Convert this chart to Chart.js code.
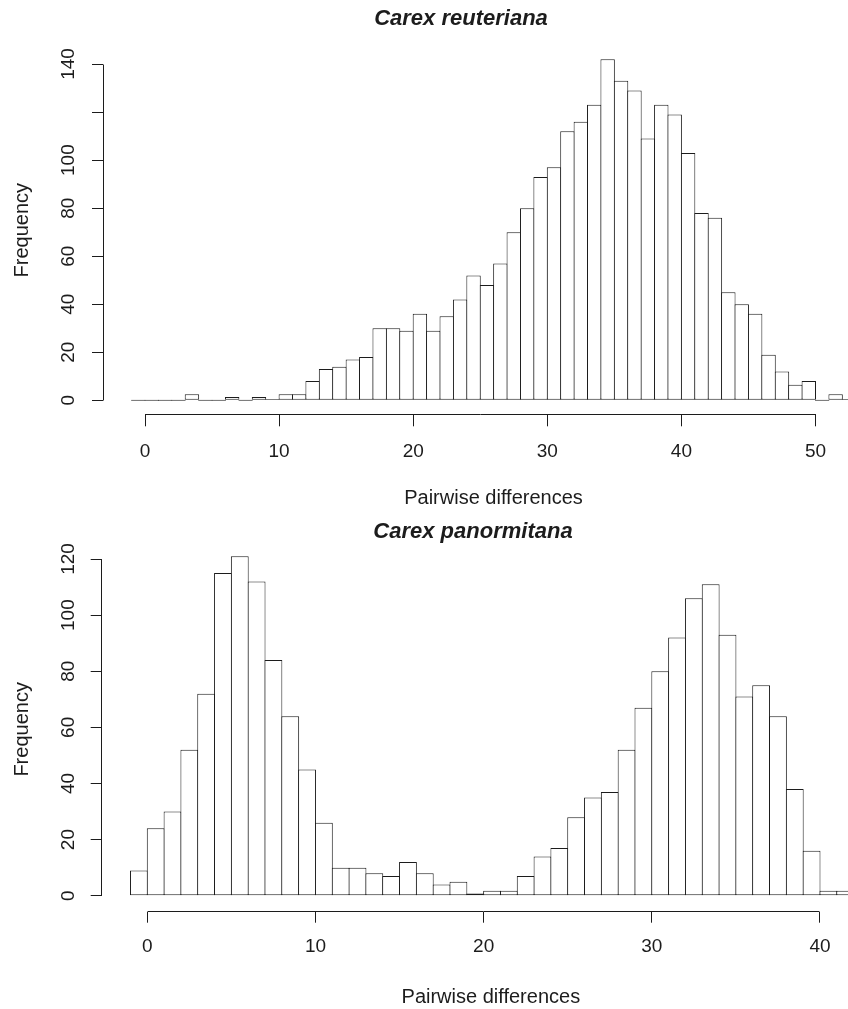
<!DOCTYPE html>
<html><head><meta charset="utf-8">
<script src="https://cdn.jsdelivr.net/npm/chart.js@4/dist/chart.umd.min.js"></script>
<style>
html,body{margin:0;padding:0;background:#fff;overflow:hidden;width:848px;height:1009px;}
#wrapTop{position:absolute;left:0;top:0;width:884px;height:515px;}
#wrapBottom{position:absolute;left:0;top:515px;width:906px;height:494px;}
canvas{display:block;}
</style></head><body>
<div id="wrapTop"><canvas id="top" width="884" height="515"></canvas></div>
<div id="wrapBottom"><canvas id="bottom" width="906" height="494"></canvas></div>
<script>
// ---- data ----
const titleTop = 'Carex reuteriana';
const titleBottom = 'Carex panormitana';
const xAxisTitle = 'Pairwise differences';
const yAxisTitle = 'Frequency';

// lower edges of the 1-unit bins
const binsTop = [-1,0,1,2,3,4,5,6,7,8,9,10,11,12,13,14,15,16,17,18,19,20,21,22,23,24,25,26,27,28,29,30,31,32,33,34,35,36,37,38,39,40,41,42,43,44,45,46,47,48,49,50,51,52];
const countsTop = [0,0,0,0,2.5,0,0,1.4,0,1.4,0.5,2.5,2.5,8,13,14,17,18,30,30,29,36,29,35,42,52,48,57,70,80,93,97,112,116,123,142,133,129,109,123,119,103,78,76,45,40,36,19,12,6.5,8,0,2.5,0.5];
const xTicksTop = [0,10,20,30,40,50];
const yTicksTop = [0,20,40,60,80,100,120,140];
const yTickLabelsTop = ['0','20','40','60','80','100','','140'];

const binsBottom = [-1,0,1,2,3,4,5,6,7,8,9,10,11,12,13,14,15,16,17,18,19,20,21,22,23,24,25,26,27,28,29,30,31,32,33,34,35,36,37,38,39,40,41];
const countsBottom = [9,24,30,52,72,115,121,112,84,64,45,26,10,10,8,7,12,8,4,5,0.8,1.8,1.8,7,14,17,28,35,37,52,67,80,92,106,111,93,71,75,64,38,16,1.8,1.8];
const xTicksBottom = [0,10,20,30,40];
const yTicksBottom = [0,20,40,60,80,100,120];
const yTickLabelsBottom = ['0','20','40','60','80','100','120'];

// ---- style / layout ----
const INK = '#1c1c1c';
Chart.defaults.font.family = "'Liberation Sans', Arial, Helvetica, sans-serif";
Chart.defaults.color = INK;

function alignPx(p){ return Math.round(p - 0.5) + 0.5; }

const rAxisLines = {
  id: 'rAxisLines',
  afterDraw(chart) {
    const ctx = chart.ctx;
    const xs = chart.scales.x, ys = chart.scales.y;
    ctx.save();
    ctx.strokeStyle = INK;
    ctx.lineWidth = 1;
    ctx.beginPath();
    const xy = alignPx(xs.top);
    ctx.moveTo(alignPx(xs.getPixelForValue(xs.ticks[0].value)), xy);
    ctx.lineTo(alignPx(xs.getPixelForValue(xs.ticks[xs.ticks.length - 1].value)), xy);
    const yx = alignPx(ys.right);
    ctx.moveTo(yx, alignPx(ys.getPixelForValue(ys.ticks[0].value)));
    ctx.lineTo(yx, alignPx(ys.getPixelForValue(ys.ticks[ys.ticks.length - 1].value)));
    ctx.stroke();
    ctx.restore();
  }
};

function makeHistogram(id, bins, counts, xTicks, yTicks, yLabels, title, L) {
  const scales = {
    x: {
      type: 'linear', min: L.xMin, max: L.xMax, offset: false, bounds: 'data',
      afterBuildTicks: s => { s.ticks = xTicks.map(v => ({ value: v })); },
      afterFit: s => { s.height = L.xHeight; },
      grid: { display: true, drawOnChartArea: false, drawTicks: true, tickLength: L.xTickLen, color: INK, offset: false },
      border: { display: false },
      ticks: { font: { size: 19 }, color: INK, padding: L.xTickPad, maxRotation: 0, minRotation: 0, autoSkip: false },
      title: { display: true, text: xAxisTitle, color: INK, font: { size: 20 }, padding: { top: 0, bottom: L.xTitlePad } }
    },
    y: {
      type: 'linear', min: L.yMin, max: L.yMax, bounds: 'data',
      afterBuildTicks: s => { s.ticks = yTicks.map(v => ({ value: v })); },
      afterFit: s => { s.width = L.yWidth; },
      grid: { display: true, drawOnChartArea: false, drawTicks: true, tickLength: 11, color: INK },
      border: { display: false },
      ticks: { font: { size: 19 }, color: INK, padding: L.yTickPad, minRotation: 90, maxRotation: 90,
               crossAlign: 'center', autoSkip: false, callback: (v, i) => yLabels[i] },
      title: { display: true, text: yAxisTitle, color: INK, font: { size: 20 }, padding: { top: L.yTitlePad, bottom: 0 } }
    }
  };
  if (L.rightWidth > 0) {
    // empty right-hand margin box (R's plot region continues past the cropped edge)
    scales.margin = {
      type: 'linear', position: 'right', display: true, min: 0, max: 1,
      grid: { display: false }, border: { display: false }, ticks: { display: false }, title: { display: false },
      afterFit: s => { s.width = L.rightWidth; }
    };
  }
  return new Chart(document.getElementById(id), {
    type: 'bar',
    data: {
      datasets: [{
        data: bins.map((b, i) => ({ x: b + 0.5, y: counts[i] })),
        yAxisID: 'y',
        backgroundColor: '#ffffff',
        borderColor: INK,
        borderWidth: 1,
        borderSkipped: false,
        inflateAmount: 0,
        minBarLength: 1,
        barPercentage: L.barPct,
        categoryPercentage: 1,
        grouped: false
      }]
    },
    options: {
      responsive: false,
      animation: false,
      events: [],
      layout: { padding: { left: L.padLeft, right: 0, top: 0, bottom: 0 } },
      plugins: {
        legend: { display: false },
        tooltip: { enabled: false },
        title: {
          display: true, text: title, color: INK,
          font: { size: 22, weight: 'bold', style: 'italic' },
          padding: { top: L.titleTop, bottom: L.titleBottom }
        }
      },
      scales
    },
    plugins: [rAxisLines]
  });
}

makeHistogram('top', binsTop, countsTop, xTicksTop, yTicksTop, yTickLabelsTop, titleTop, {
  padLeft: 38, barPct: 1.0746, titleTop: 5.8, titleBottom: 13.8,
  xMin: -3.132, xMax: 55.108, xHeight: 100.7, xTickLen: 12, xTickPad: 14.3, xTitlePad: 5,
  yMin: -5.83, yMax: 147.5, yWidth: 65, yTickPad: 7.85, yTitlePad: -27.3, rightWidth: 0
});

makeHistogram('bottom', binsBottom, countsBottom, xTicksBottom, yTicksBottom, yTickLabelsBottom, titleBottom, {
  padLeft: 40, barPct: 1.0595, titleTop: 3.3, titleBottom: 2.3,
  xMin: -2.711, xMax: 43.568, xHeight: 97.3, xTickLen: 11, xTickPad: 12.6, xTitlePad: 0,
  yMin: -5.70, yMax: 124.28, yWidth: 61.7, yTickPad: 6.55, yTitlePad: -29.3, rightWidth: 26
});
</script>
</body></html>
